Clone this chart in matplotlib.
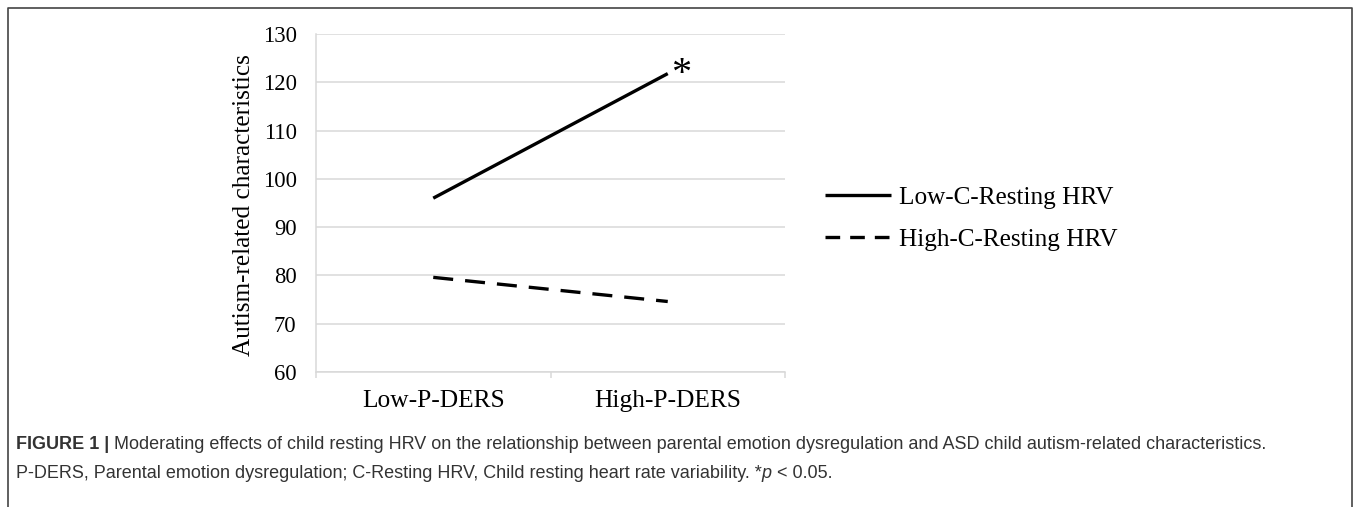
import matplotlib
matplotlib.use("Agg")
import matplotlib.pyplot as plt
from matplotlib.lines import Line2D

# ---- data ----
categories = ["Low-P-DERS", "High-P-DERS"]
low_hrv = [96.0, 121.8]
high_hrv = [79.6, 74.6]
series_labels = ["Low-C-Resting HRV", "High-C-Resting HRV"]
y_ticks = [60, 70, 80, 90, 100, 110, 120, 130]
y_label = "Autism-related characteristics"
caption_bold = "FIGURE 1 |"
caption_line1 = (" Moderating effects of child resting HRV on the relationship between "
                 "parental emotion dysregulation and ASD child autism-related characteristics.")
caption_line2a = "P-DERS, Parental emotion dysregulation; C-Resting HRV, Child resting heart rate variability. *"
caption_line2b = "p"
caption_line2c = " < 0.05."

W, H = 1358, 507
DPI = 100
fig = plt.figure(figsize=(W / DPI, H / DPI), dpi=DPI)
fig.patch.set_facecolor("white")

serif = ["Liberation Serif", "DejaVu Serif"]
sans = ["Liberation Sans", "DejaVu Sans"]
grid_c = "#d9d9d9"

def px(x, y):
    return x / W, 1 - y / H

l, t = px(316, 34)
r, b = px(785, 372)
ax = fig.add_axes([l, b, r - l, t - b])

x = list(range(len(categories)))
ax.plot(x, low_hrv, color="black", lw=2.4, solid_capstyle="butt")
ax.plot(x, high_hrv, color="black", lw=2.4, dashes=(6.0, 3.6), dash_capstyle="butt")

ax.set_xlim(-0.5, len(categories) - 0.5)
ax.set_ylim(y_ticks[0], y_ticks[-1])
ax.set_yticks(y_ticks)
ax.set_yticklabels([str(v) for v in y_ticks], fontfamily=serif, fontsize=16.3)
ax.tick_params(axis="y", length=0, pad=14)
ax.yaxis.grid(True, color=grid_c, lw=1.1)
ax.set_axisbelow(True)

ax.set_xticks([i - 0.5 for i in range(len(categories) + 1)])
ax.set_xticklabels([])
ax.tick_params(axis="x", which="major", length=4.5, width=1.1, color=grid_c, direction="out")
ax.set_xticks(x, minor=True)
ax.set_xticklabels(categories, minor=True, fontfamily=serif, fontsize=18.3)
ax.tick_params(axis="x", which="minor", length=0, pad=13)

for s in ["top", "right"]:
    ax.spines[s].set_visible(False)
for s in ["left", "bottom"]:
    ax.spines[s].set_color(grid_c)
    ax.spines[s].set_linewidth(1.1)

ax.annotate("*", xy=(x[-1], low_hrv[-1]), xytext=(3, -19), textcoords="offset pixels",
            fontsize=29, fontfamily=serif, ha="left", va="bottom")

cx, cy = px(244, 205)
fig.text(cx, cy, y_label, rotation=90, ha="center", va="center", fontfamily=serif, fontsize=18.2)

h1 = Line2D([], [], color="black", lw=2.4, solid_capstyle="butt")
h2 = Line2D([], [], color="black", lw=2.4, dashes=(4.4, 3.0), dash_capstyle="butt")
lx, ly = px(825, 218.5)
fig.legend([h1, h2], series_labels, loc="center left", bbox_to_anchor=(lx, ly),
           bbox_transform=fig.transFigure, frameon=False, borderpad=0, borderaxespad=0,
           handlelength=2.6, handletextpad=0.32, labelspacing=0.75,
           prop={"family": serif, "size": 18.2})

# caption
cap_c = "#333333"
cfs = 13.0
x0, y1 = px(16, 449)
_, y2 = px(16, 478)
t1 = fig.text(x0, y1, caption_bold, fontfamily=sans, fontsize=cfs, fontweight="bold",
              color=cap_c, va="baseline", ha="left")
ax.annotate(caption_line1, xy=(1, 0), xycoords=t1, va="bottom", ha="left",
            fontfamily=sans, fontsize=cfs, color=cap_c, annotation_clip=False)
t2 = fig.text(x0, y2, caption_line2a, fontfamily=sans, fontsize=cfs, color=cap_c,
              va="baseline", ha="left")
t3 = ax.annotate(caption_line2b, xy=(1, 0), xycoords=t2, va="bottom", ha="left",
                 fontfamily=sans, fontsize=cfs, color=cap_c, style="italic",
                 annotation_clip=False)
ax.annotate(caption_line2c, xy=(1, 0), xycoords=t3, va="bottom", ha="left",
            fontfamily=sans, fontsize=cfs, color=cap_c, annotation_clip=False)

# frame
fx = [8, 8, 1352, 1352]
fy = [520, 8, 8, 520]
fig.add_artist(Line2D([v / W for v in fx], [1 - v / H for v in fy], transform=fig.transFigure,
                      color="#444444", lw=1.2))

fig.savefig("out.png", dpi=DPI, facecolor="white")
